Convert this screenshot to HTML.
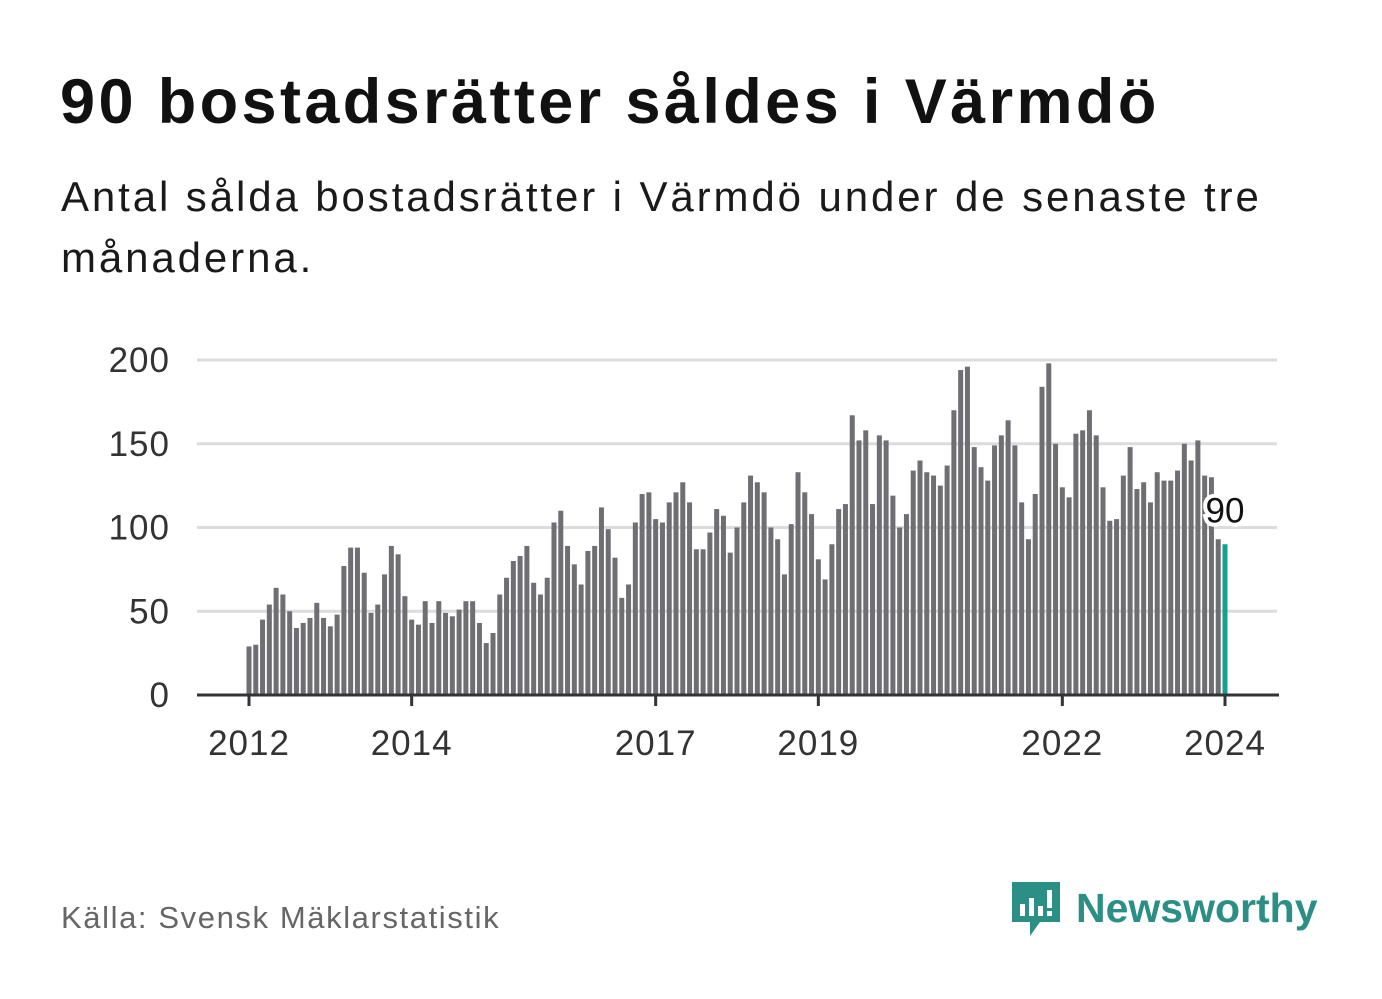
<!DOCTYPE html>
<html><head><meta charset="utf-8"><style>
body{margin:0;width:1382px;height:999px;background:#fff;font-family:"Liberation Sans",sans-serif;position:relative;overflow:hidden}
h1{position:absolute;left:60px;top:66px;margin:0;font-size:63px;font-weight:bold;color:#111;letter-spacing:3.4px;white-space:nowrap}
.sub{position:absolute;left:61px;top:166px;width:1250px;font-size:42px;line-height:61px;color:#1a1a1a;letter-spacing:2.9px}
.src{position:absolute;left:61px;top:900px;font-size:31px;color:#666;letter-spacing:1.6px}
.logo{position:absolute;left:1010px;top:878px;display:flex;align-items:center}
.logo span{font-size:41px;font-weight:bold;color:#2b8f86;margin-left:14px}
</style></head><body>
<h1>90 bostadsrätter såldes i Värmdö</h1>
<div class="sub">Antal sålda bostadsrätter i Värmdö under de senaste tre månaderna.</div>
<svg id="chart" width="1382" height="999" style="position:absolute;left:0;top:0"></svg>
<div class="src">Källa: Svensk Mäklarstatistik</div>
<div class="logo">
<svg width="52" height="60" viewBox="0 0 52 60"><path d="M2 4h48v40H30l-10 14v-14H2z" fill="#2b8f86"/><rect x="10" y="26" width="5" height="12" fill="#fff"/><rect x="19" y="20" width="5" height="18" fill="#fff"/><rect x="28" y="28" width="5" height="10" fill="#fff"/><rect x="37" y="12" width="5" height="18" fill="#fff"/><rect x="37" y="33" width="5" height="5" fill="#fff"/></svg>
<span>Newsworthy</span></div>
<script>
const values=[29,30,45,54,64,60,50,40,43,46,55,46,
41,48,77,88,88,73,49,54,72,89,84,59,
45,42,56,43,56,49,47,51,56,56,43,31,
37,60,70,80,83,89,67,60,70,103,110,89,
78,66,86,89,112,99,82,58,66,103,120,121,
105,103,115,121,127,115,87,87,97,111,107,85,
100,115,131,127,121,100,93,72,102,133,121,108,
81,69,90,111,114,167,152,158,114,155,152,119,
100,108,134,140,133,131,125,137,170,194,196,148,
136,128,149,155,164,149,115,93,120,184,198,150,
124,118,156,158,170,155,124,104,105,131,148,123,
127,115,133,128,128,134,150,140,152,131,130,93,
90];
const yTicks=[0,50,100,150,200];
const xTickLabels=["2012","2014","2017","2019","2022","2024"];
const xTickIndex=[0,24,60,84,120,144];
const NS="http://www.w3.org/2000/svg",svg=document.getElementById('chart');
const y=v=>695-v*1.675, x=i=>249+i*(976/144);
function mk(t,a){const e=document.createElementNS(NS,t);for(const k in a)e.setAttribute(k,a[k]);svg.appendChild(e);return e;}
yTicks.forEach(t=>{
 if(t>0){const l=mk('line',{x1:197,x2:1277,y1:y(t),y2:y(t),stroke:'#dcdcdc','stroke-width':3});
 
 }
 const tx=mk('text',{x:170,y:y(t)+12,'text-anchor':'end','font-size':35,fill:'#333','letter-spacing':1,'font-family':'Liberation Sans, sans-serif'});tx.textContent=t;
 
 
});
values.forEach((v,i)=>{
 const last=i===values.length-1;
 const r=mk('rect',{x:x(i)-2.5,y:y(v),width:5,height:695-y(v),fill:last?'#14a093':'#6f6e73'});
 
 
});
const ax=mk('line',{x1:197,x2:1279,y1:695,y2:695,stroke:'#333','stroke-width':3});


xTickIndex.forEach((idx,k)=>{
 mk('line',{x1:x(idx),x2:x(idx),y1:695,y2:706,stroke:'#333','stroke-width':3});
 const tx=mk('text',{x:x(idx),y:755,'text-anchor':'middle','font-size':35,fill:'#333','letter-spacing':1,'font-family':'Liberation Sans, sans-serif'});tx.textContent=xTickLabels[k];
 
 
});
const li=values.length-1;
const lb=mk('text',{x:x(li),y:y(values[li])-22,'text-anchor':'middle','font-size':35,fill:'#111',stroke:'#fff','stroke-width':8,'paint-order':'stroke','font-family':'Liberation Sans, sans-serif'});
lb.textContent=values[li];


</script>
</body></html>
